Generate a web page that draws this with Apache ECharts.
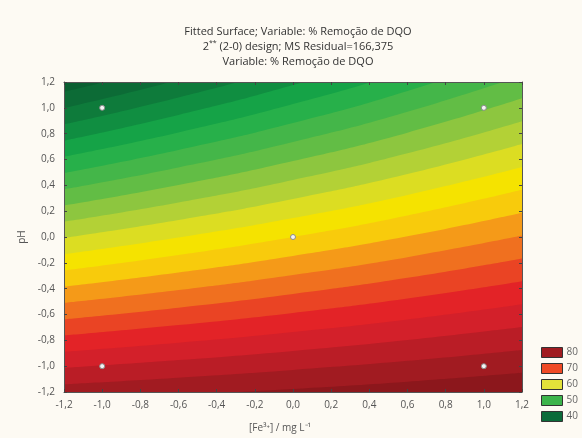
<!DOCTYPE html>
<html>
<head>
<meta charset="utf-8">
<script src="https://cdn.jsdelivr.net/npm/echarts@6/dist/echarts.min.js"></script>
<style>
html, body { margin: 0; padding: 0; background: #fdfaf3; }
#chart { width: 582px; height: 438px; }
</style>
</head>
<body>
<div id="chart"></div>
<script>
// contour levels (% Remoção de DQO)
var levels = [35, 37.5, 40, 42.5, 45, 47.5, 50, 52.5, 55, 57.5, 60, 62.5, 65, 67.5, 70, 72.5, 75, 77.5, 80, 82.5, 85];
// x positions where each contour boundary was read
var xKnots = [-1.2, -0.6, 0, 0.6, 1.2];
// pH of each contour boundary at the xKnots (one row per level)
var levelY = [
	[1.249, 1.487, 1.765, 2.094, 2.490],
	[1.124, 1.351, 1.618, 1.933, 2.313],
	[0.998, 1.216, 1.471, 1.772, 2.136],
	[0.872, 1.080, 1.324, 1.612, 1.959],
	[0.746, 0.945, 1.176, 1.451, 1.782],
	[0.621, 0.809, 1.029, 1.290, 1.605],
	[0.495, 0.674, 0.882, 1.130, 1.428],
	[0.369, 0.538, 0.735, 0.969, 1.251],
	[0.243, 0.402, 0.588, 0.808, 1.074],
	[0.118, 0.267, 0.441, 0.648, 0.897],
	[-0.008, 0.131, 0.294, 0.487, 0.720],
	[-0.134, -0.004, 0.147, 0.326, 0.542],
	[-0.260, -0.140, 0.000, 0.166, 0.365],
	[-0.385, -0.275, -0.147, 0.005, 0.188],
	[-0.511, -0.411, -0.294, -0.156, 0.011],
	[-0.637, -0.547, -0.441, -0.316, -0.166],
	[-0.763, -0.682, -0.588, -0.477, -0.343],
	[-0.888, -0.818, -0.735, -0.638, -0.520],
	[-1.014, -0.953, -0.882, -0.798, -0.697],
	[-1.140, -1.089, -1.029, -0.959, -0.874],
	[-1.266, -1.224, -1.176, -1.120, -1.051]
];
// experimental design points (2^2 + centre)
var designX = [-1, 1, -1, 1, 0];
var designY = [-1, -1, 1, 1, 0];
// legend classes
var legendLabels = ['80', '70', '60', '50', '40'];

// colours (band above each level)
var bandColors = ['#0a5f31', '#0c6b36', '#0e7b3b', '#108e41', '#15a347', '#27b04a', '#44b649', '#62bd45', '#8dc63f', '#b3d136', '#dcdd22',
	'#f5e300', '#f8cb0c', '#f59a18', '#f0701f', '#ea4424', '#e32327', '#d3202a', '#ba1d26', '#a11b21', '#8c171c'];
var legendColors = ['#a01b20', '#ef4a26', '#e3e23a', '#3cb44b', '#0b6b3a'];

var chart = echarts.init(document.getElementById('chart'));

function fmt(v) {
	if(Math.abs(v) < 1e-9) v = 0;
	return v.toFixed(1).replace('.', ',');
}

var series = [];
//filled contour bands: area under each boundary, drawn from low to high level
for(var i = 0; i < levels.length; i++) {
	var d = [];
	for(var k = 0; k < xKnots.length; k++) {
		d.push([xKnots[k], levelY[i][k]]);
	}
	series.push({
		type: 'line',
		name: 'L' + levels[i],
		data: d,
		smooth: true,
		showSymbol: false,
		silent: true,
		clip: true,
		lineStyle: { width: 0, opacity: 0 },
		areaStyle: { color: bandColors[i], opacity: 1, origin: 'start' },
		z: 1
	});
}
//design points
var pts = [];
for(var j = 0; j < designX.length; j++) pts.push([designX[j], designY[j]]);
series.push({
	type: 'scatter',
	data: pts,
	symbolSize: 5,
	itemStyle: { color: '#f4f4f4', borderColor: '#8a8a8a', borderWidth: 1, opacity: 1 },
	z: 5
});
//legend entries
for(var m = 0; m < legendLabels.length; m++) {
	series.push({
		type: 'scatter',
		name: legendLabels[m],
		data: [],
		itemStyle: { color: legendColors[m], borderColor: '#333', borderWidth: 1, opacity: 1 }
	});
}

var axisCommon = {
	type: 'value',
	min: -1.2,
	max: 1.2,
	interval: 0.2,
	z: 10,
	splitLine: { show: false },
	axisLine: { show: true, onZero: false, lineStyle: { color: '#555', width: 1 } },
	axisTick: { show: true, inside: true, length: 3, lineStyle: { color: '#444' } }
};

var option = {
	backgroundColor: '#fdfaf3',
	animation: false,
	textStyle: { fontFamily: 'Open Sans' },
	title: {
		text: 'Fitted Surface; Variable: % Remoção de DQO\n2{sup|**} (2-0) design; MS Residual=166,375\nVariable: % Remoção de DQO',
		left: 293,
		textAlign: 'center',
		top: 19,
		textStyle: {
			fontFamily: 'Open Sans',
			fontSize: 11,
			fontWeight: 'normal',
			color: '#333',
			lineHeight: 15,
			rich: {
				sup: { fontSize: 7, verticalAlign: 'top', lineHeight: 15, color: '#333', padding: [0, 0, 4, 0] }
			}
		}
	},
	legend: {
		orient: 'vertical',
		left: 536,
		top: 342,
		icon: 'rect',
		itemWidth: 21,
		itemHeight: 10,
		itemGap: 5,
		selectedMode: false,
		data: legendLabels,
		itemStyle: { borderColor: '#333', borderWidth: 1, opacity: 1 },
		textStyle: { fontSize: 10, color: '#666', padding: [0, 0, 0, -1] }
	},
	grid: {
		left: 64,
		right: 60,
		top: 82,
		bottom: 46
	},
	xAxis: [
		Object.assign({}, axisCommon, {
			position: 'bottom',
			name: '[Fe³⁺] / mg L⁻¹',
			nameLocation: 'middle',
			nameGap: 31,
			nameTextStyle: { fontSize: 10, color: '#555', padding: [0, 26, 0, 0] },
			axisLabel: { fontSize: 10, color: '#555', margin: 8, formatter: fmt }
		}),
		Object.assign({}, axisCommon, {
			position: 'top',
			axisLabel: { show: false }
		})
	],
	yAxis: [
		Object.assign({}, axisCommon, {
			position: 'left',
			name: 'pH',
			nameLocation: 'middle',
			nameGap: 37,
			nameTextStyle: { fontSize: 10, color: '#555' },
			axisLabel: { fontSize: 10, color: '#555', margin: 9, formatter: fmt }
		}),
		Object.assign({}, axisCommon, {
			position: 'right',
			axisLabel: { show: false }
		})
	],
	series: series
};

chart.setOption(option);
</script>
</body>
</html>
